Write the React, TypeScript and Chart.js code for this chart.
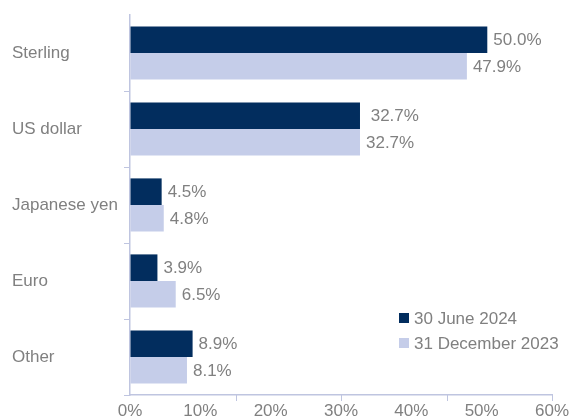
import React, { useEffect, useRef } from "react";
import { Chart, registerables } from "chart.js";

Chart.register(...registerables);

const categories = ["Sterling", "US dollar", "Japanese yen", "Euro", "Other"];
const seriesNames = ["30 June 2024", "31 December 2023"];
const june2024 = [50.8, 32.7, 4.5, 3.9, 8.9];
const dec2023 = [47.9, 32.7, 4.8, 6.5, 8.1];
const june2024Labels = ["50.0%", " 32.7%", "4.5%", "3.9%", "8.9%"];
const dec2023Labels = ["47.9%", "32.7%", "4.8%", "6.5%", "8.1%"];
const xMin = 0;
const xMax = 60;
const xStep = 10;
const xTickMarks = [15, 30, 45, 60];

const DARK = "#022d5e";
const LIGHT = "#c5cde9";
const AXIS = "#bfc5e0";
const TEXT = "#808080";
const FONT = "'Liberation Sans', Arial, sans-serif";

export default function App() {
  const ref = useRef<HTMLCanvasElement | null>(null);

  useEffect(() => {
    const canvas = ref.current;
    if (!canvas) return;
    const labelSets = [june2024Labels, dec2023Labels];
    const colors = [DARK, LIGHT];

    const dataLabels = {
      id: "dataLabels",
      afterDatasetsDraw(chart: any) {
        const ctx = chart.ctx;
        ctx.save();
        ctx.font = `17px ${FONT}`;
        ctx.fillStyle = TEXT;
        ctx.textAlign = "left";
        ctx.textBaseline = "middle";
        chart.data.datasets.forEach((_ds: any, i: number) => {
          const meta = chart.getDatasetMeta(i);
          meta.data.forEach((bar: any, j: number) => {
            ctx.fillText(labelSets[i][j], bar.x + 6, bar.y + 1);
          });
        });
        ctx.restore();
      },
    };

    const xMarks = {
      id: "xMarks",
      afterDraw(chart: any) {
        const ctx = chart.ctx;
        const xs = chart.scales.x;
        const bottom = chart.chartArea.bottom;
        ctx.save();
        ctx.strokeStyle = AXIS;
        ctx.lineWidth = 1;
        xTickMarks.forEach((v) => {
          const px = Math.round(xs.getPixelForValue(v)) + 0.5;
          ctx.beginPath();
          ctx.moveTo(px, bottom);
          ctx.lineTo(px, bottom + 6);
          ctx.stroke();
        });
        ctx.restore();
      },
    };

    const insideLegend = {
      id: "insideLegend",
      afterDraw(chart: any) {
        const ctx = chart.ctx;
        const area = chart.chartArea;
        const left = area.right - 153;
        const top = area.bottom - 77;
        ctx.save();
        ctx.font = `17px ${FONT}`;
        ctx.textAlign = "left";
        ctx.textBaseline = "middle";
        chart.data.datasets.forEach((ds: any, i: number) => {
          const cy = top + i * 25;
          ctx.fillStyle = ds.backgroundColor;
          ctx.fillRect(left, cy - 5, 10, 10);
          ctx.fillStyle = TEXT;
          ctx.fillText(ds.label, left + 15, cy + 1);
        });
        ctx.restore();
      },
    };

    const chart = new Chart(canvas, {
      type: "bar",
      data: {
        labels: categories,
        datasets: [
          {
            label: seriesNames[0],
            data: june2024,
            backgroundColor: colors[0],
            borderWidth: 0,
            categoryPercentage: 0.7,
            barPercentage: 1.0,
          },
          {
            label: seriesNames[1],
            data: dec2023,
            backgroundColor: colors[1],
            borderWidth: 0,
            categoryPercentage: 0.7,
            barPercentage: 1.0,
          },
        ],
      },
      options: {
        indexAxis: "y",
        responsive: false,
        animation: false,
        layout: { padding: { left: 12, top: 15, right: 19, bottom: 0 } },
        plugins: {
          legend: { display: false },
          tooltip: { enabled: false },
        },
        scales: {
          x: {
            type: "linear",
            min: xMin,
            max: xMax,
            ticks: {
              stepSize: xStep,
              callback: (v: any) => `${v}%`,
              color: TEXT,
              font: { family: FONT, size: 17 },
              padding: 6,
            },
            grid: { display: true, drawOnChartArea: false, drawTicks: false, color: AXIS },
            border: { display: true, color: AXIS, width: 1.5 },
            afterFit: (s: any) => {
              s.height = 22;
              s.paddingRight = 0;
              s.paddingLeft = 0;
            },
          },
          y: {
            type: "category",
            ticks: {
              crossAlign: "far",
              color: TEXT,
              font: { family: FONT, size: 17 },
            },
            grid: {
              display: true,
              drawOnChartArea: false,
              drawTicks: true,
              tickLength: 6,
              offset: true,
              color: (c: any) =>
                c.index === 0 || c.index === categories.length ? "rgba(0,0,0,0)" : AXIS,
            },
            border: { display: true, color: AXIS, width: 1.5 },
            afterFit: (s: any) => {
              s.width = 118;
            },
          },
        },
      },
      plugins: [dataLabels, xMarks, insideLegend],
    } as any);

    return () => chart.destroy();
  }, []);

  return (
    <div style={{ position: "fixed", left: 0, top: 0, width: 571, height: 417, background: "#fff" }}>
      <canvas ref={ref} width={571} height={417} style={{ display: "block" }} />
    </div>
  );
}
